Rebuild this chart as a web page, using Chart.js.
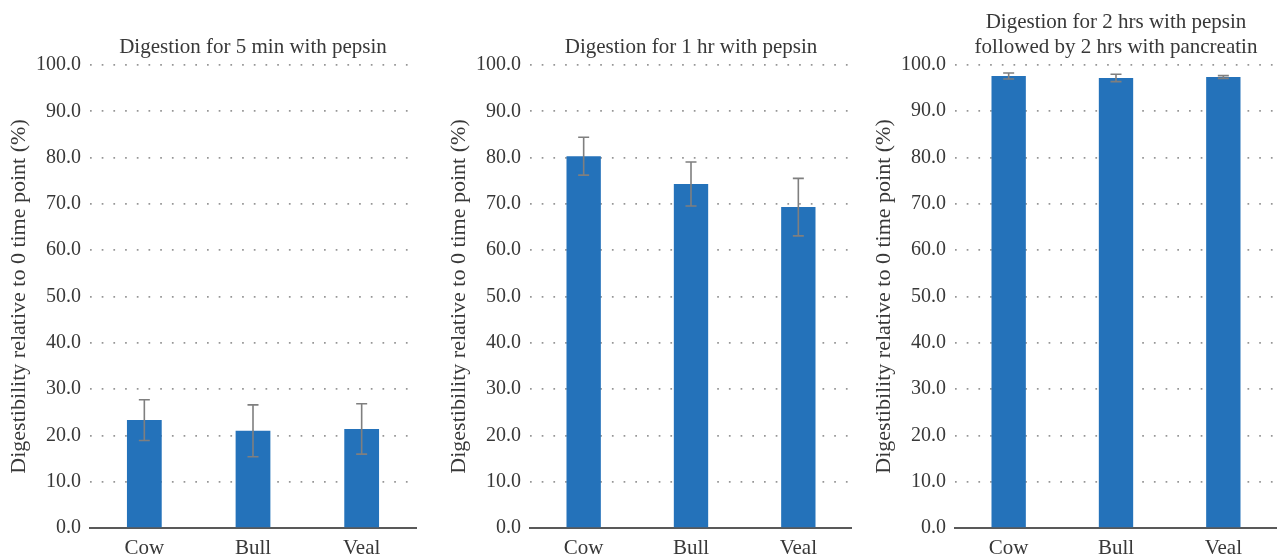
<!DOCTYPE html>
<html>
<head>
<meta charset="utf-8">
<script src="https://cdn.jsdelivr.net/npm/chart.js@4/dist/chart.umd.min.js"></script>
<style>
  html, body { margin: 0; padding: 0; background: #ffffff; }
  body { width: 1277px; height: 556px; position: relative; overflow: hidden; }
  .panel { position: absolute; top: 0; height: 556px; }
</style>
</head>
<body>
<div class="panel" style="left:0px;width:426px;"><canvas id="c1"></canvas></div>
<div class="panel" style="left:440px;width:412px;"><canvas id="c2"></canvas></div>
<div class="panel" style="left:865px;width:412px;"><canvas id="c3"></canvas></div>
<script>
// ---- data ----
const categories = ['Cow', 'Bull', 'Veal'];
const pepsin5minMeans = [23.3, 21.0, 21.4];
const pepsin5minErrors = [4.4, 5.6, 5.45];
const pepsin1hrMeans = [80.3, 74.3, 69.3];
const pepsin1hrErrors = [4.1, 4.75, 6.2];
const pancreatinMeans = [97.6, 97.2, 97.4];
const pancreatinErrors = [0.65, 0.8, 0.3];
const yAxisMin = 0;
const yAxisMax = 100;
const yAxisStep = 10;
const title5min = 'Digestion for 5 min with pepsin';
const title1hr = 'Digestion for 1 hr with pepsin';
const titlePancreatin = ['Digestion for 2 hrs with pepsin', 'followed by 2 hrs with pancreatin'];
const yAxisTitle = 'Digestibility relative to 0 time point (%)';

// ---- styles ----
const FONT = "'Liberation Serif', 'Times New Roman', serif";
const TEXT = '#383838';
const BAR = '#2472BA';

const errorBarPlugin = {
  id: 'errorBars',
  afterDatasetsDraw(chart) {
    const errs = chart.options.plugins.errorBars.errors;
    const yScale = chart.scales.y;
    const meta = chart.getDatasetMeta(0);
    const ctx = chart.ctx;
    const vals = chart.data.datasets[0].data;
    ctx.save();
    ctx.strokeStyle = '#7f7f7f';
    ctx.lineWidth = 1.6;
    meta.data.forEach((bar, i) => {
      const x = bar.x;
      const yt = yScale.getPixelForValue(vals[i] + errs[i]);
      const yb = yScale.getPixelForValue(vals[i] - errs[i]);
      ctx.beginPath();
      ctx.moveTo(x, yt); ctx.lineTo(x, yb);
      ctx.moveTo(x - 5.5, yt); ctx.lineTo(x + 5.5, yt);
      ctx.moveTo(x - 5.5, yb); ctx.lineTo(x + 5.5, yb);
      ctx.stroke();
    });
    ctx.restore();
  }
};

function makeChart(id, title, means, errors, rightPad, titlePad) {
  return new Chart(document.getElementById(id), {
    type: 'bar',
    data: {
      labels: categories,
      datasets: [{
        data: means,
        backgroundColor: BAR,
        borderWidth: 0,
        barPercentage: 1,
        categoryPercentage: 0.32
      }]
    },
    options: {
      responsive: true,
      maintainAspectRatio: false,
      animation: false,
      layout: { padding: { left: 0, right: rightPad, top: 0, bottom: 0 } },
      plugins: {
        legend: { display: false },
        tooltip: { enabled: false },
        title: {
          display: true,
          fullSize: false,
          text: title,
          color: TEXT,
          font: { family: FONT, size: 21, weight: 'normal', lineHeight: 1.17 },
          padding: titlePad
        },
        errorBars: { errors: errors }
      },
      scales: {
        x: {
          grid: { display: false },
          border: { display: true, color: '#595959', width: 2 },
          ticks: { color: TEXT, font: { family: FONT, size: 21 }, padding: 0 },
          afterFit(scale) { scale.height = 28; }
        },
        y: {
          min: yAxisMin,
          max: yAxisMax,
          ticks: {
            stepSize: yAxisStep,
            color: TEXT,
            font: { family: FONT, size: 20 },
            padding: 9,
            callback: (v) => Number(v).toFixed(1)
          },
          grid: { display: true, color: '#969696', lineWidth: 1.7, drawTicks: false },
          border: { display: false, dash: [1.7, 10] },
          title: {
            display: true,
            text: yAxisTitle,
            color: TEXT,
            font: { family: FONT, size: 22, lineHeight: 1.2 },
            padding: { top: 5.8, bottom: 0 }
          },
          afterFit(scale) { scale.width = 90; }
        }
      }
    },
    plugins: [errorBarPlugin]
  });
}

makeChart('c1', title5min, pepsin5minMeans, pepsin5minErrors, 10, { top: 34.9, bottom: 5.5 });
makeChart('c2', title1hr, pepsin1hrMeans, pepsin1hrErrors, 0, { top: 34.9, bottom: 5.5 });
makeChart('c3', titlePancreatin, pancreatinMeans, pancreatinErrors, 0, { top: 10.3, bottom: 5.5 });
</script>
</body>
</html>
